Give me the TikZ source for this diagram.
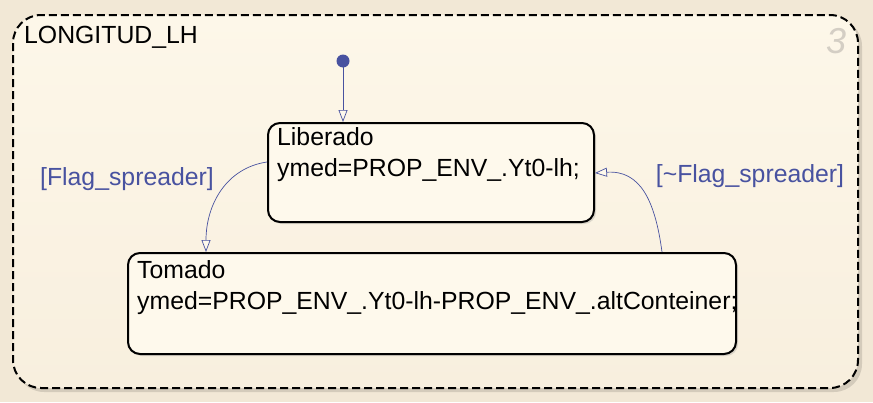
\documentclass[tikz,border=0pt]{standalone}
\usepackage{fontspec}
\setmainfont{Liberation Sans}
\usetikzlibrary{arrows.meta,shadows}
\definecolor{outerbg}{RGB}{242,232,214}
\definecolor{innertop}{RGB}{253,247,233}
\definecolor{innerbot}{RGB}{248,239,222}
\definecolor{boxfill}{RGB}{254,249,236}
\definecolor{trans}{RGB}{72,82,160}
\definecolor{numgray}{RGB}{212,206,196}
\tikzset{
  statebox/.style={draw=black, line width=2pt, rounded corners=12pt, fill=boxfill,
    drop shadow={shadow xshift=2pt, shadow yshift=-2pt, opacity=0.25}},
  stext/.style={anchor=base west, inner sep=0pt, font=\fontsize{24.8}{31}\selectfont, text=black},
  tlabel/.style={anchor=center, inner sep=0pt, font=\fontsize{24.8}{31}\selectfont, text=trans},
  transline/.style={draw=trans, line width=0.7pt, -{Triangle[open, length=12pt, width=9pt, fill=boxfill]}}
}
\begin{document}
\begin{tikzpicture}[x=1pt,y=-1pt]
\useasboundingbox (0,0) rectangle (873,402);
\fill[outerbg] (0,0) rectangle (873,402);
% outer chart
\fill[black, opacity=0.12, rounded corners=28pt] (16,18) rectangle (862,392);
\shade[top color=innertop, bottom color=innerbot, rounded corners=28pt] (13,15) rectangle (858,388);
\draw[black, line width=2pt, dash pattern=on 8pt off 4pt, rounded corners=28pt] (13,15) rectangle (858,388);
\node[stext] (title) at (24,43) {LONGITUD\_LH};
\node[anchor=base west, inner sep=0pt, font=\fontsize{36}{36}\selectfont\itshape, text=numgray] (num) at (826,53) {3};
% states
\node[statebox, minimum width=326pt, minimum height=99pt, inner sep=0pt] (lib) at (431,172.5) {};
\node[statebox, minimum width=608pt, minimum height=101pt, inner sep=0pt] (tom) at (432,303.5) {};
\node[stext] (libname) at (277,145) {Liberado};
\node[stext] (libact) at (277,176) {ymed=PROP\_ENV\_.Yt0-lh;};
\node[stext] (tomname) at (137,278) {Tomado};
\node[stext] (tomact) at (137,309) {ymed=PROP\_ENV\_.Yt0-lh-PROP\_ENV\_.altConteiner;};
% initial
\fill[trans] (343,61) circle (6.5pt);
\coordinate (init) at (343,61);
\draw[transline] (init) -- (lib.north -| init);
% transitions
\coordinate (a1) at (lib.west |- 0,162);
\coordinate (a2) at (206,0 |- tom.north);
\draw[transline] (a1) .. controls (226,168) and (206,205) .. (a2);
\coordinate (b1) at (662,0 |- tom.north);
\coordinate (b2) at (lib.east |- 0,173);
\draw[transline] (b1) .. controls (655,200) and (640,170) .. (b2);
\node[tlabel] (l1) at (127,179) {[Flag\_spreader]};
\node[tlabel] (l2) at (750,176) {[\textasciitilde Flag\_spreader]};
\end{tikzpicture}
\end{document}
